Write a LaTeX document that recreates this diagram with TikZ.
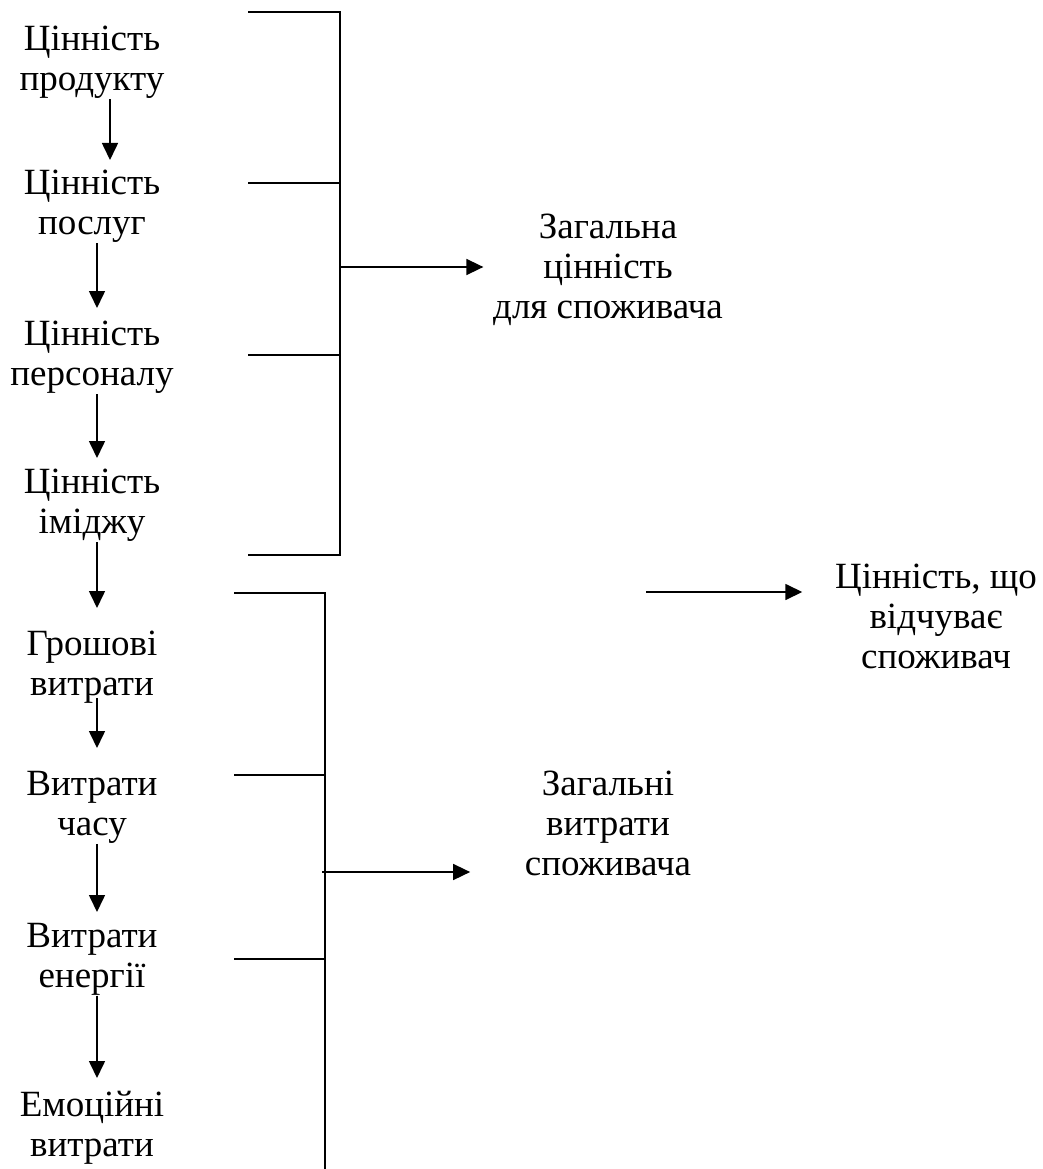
\documentclass[tikz,border=0pt]{standalone}
\usepackage{fontspec}
\setmainfont{Liberation Serif}
\usetikzlibrary{arrows.meta,calc}

\begin{document}
\begin{tikzpicture}[->, >={Triangle[length=17pt,width=16pt]}, x=1pt, y=-1pt, line width=1.6pt]
%====Stile voci e linee===============================================================
	\tikzstyle{voce}=[align=center, inner sep=0pt, anchor=north, font=\fontsize{37}{40}\selectfont]
	\tikzstyle{linea}=[-]
	\useasboundingbox (0,0) rectangle (1043,1169);
%====Voci a sinistra e posizione===============================================================
	\node[voce] 	(A) at (92,25)		{Цінність\\продукту};
	\node[voce] 	(B) at (92,169)		{Цінність\\послуг};
	\node[voce] 	(C) at (92,320)		{Цінність\\персоналу};
	\node[voce] 	(D) at (92,468)		{Цінність\\іміджу};
	\node[voce] 	(E) at (92,630)		{Грошові\\витрати};
	\node[voce] 	(F) at (92,770)		{Витрати\\часу};
	\node[voce] 	(G) at (92,922)		{Витрати\\енергії};
	\node[voce] 	(H) at (92,1090)	{Емоційні\\витрати};
%====Voci a destra===============================================================
	\node[voce] 	(R1) at (608,213)	{Загальна\\цінність\\для споживача};
	\node[voce] 	(R2) at (936,563)	{Цінність, що\\відчуває\\споживач};
	\node[voce] 	(R3) at (608,770)	{Загальні\\витрати\\споживача};
%====Parentesi===============================================================
	\draw[linea] (248,12) -- (340,12) -- (340,555) -- (248,555);
	\draw[linea] (248,183) -- (340,183);
	\draw[linea] (248,355) -- (340,355);
	\draw[linea] (234,593) -- (325,593) -- (325,1169);
	\draw[linea] (234,775) -- (325,775);
	\draw[linea] (234,959) -- (325,959);
	\coordinate (u) at (340,267);
	\coordinate (l) at (322,872);
	\coordinate (m) at (646,592);
%====Collegamenti===============================================================
      			 %from     stile                      		to
      \path 	([xshift=18pt]A.south)	edge[shorten >=9pt]		([xshift=18pt]B.north)
      				([xshift=5pt]B.south)		edge[shorten >=12pt]		([xshift=5pt]C.north)
      				([xshift=5pt]C.south)		edge[shorten >=10pt]		([xshift=5pt]D.north)
      				([xshift=5pt]D.south)		edge[shorten >=22pt]		([xshift=5pt]E.north)
      				([xshift=5pt]E.south)		edge[shorten >=22pt, shorten <=-6pt]		([xshift=5pt]F.north)
      				([xshift=5pt]F.south)		edge[shorten >=10pt]		([xshift=5pt]G.north)
      				([xshift=5pt]G.south)		edge[shorten >=12pt]		([xshift=5pt]H.north)
      				(u)		edge[shorten >=9pt]		(u -| R1.west)
      				(l)		edge[shorten >=54pt]		(l -| R3.west)
      				(m)		edge[shorten >=32pt]		(m -| R2.west);
\end{tikzpicture}
\end{document}
